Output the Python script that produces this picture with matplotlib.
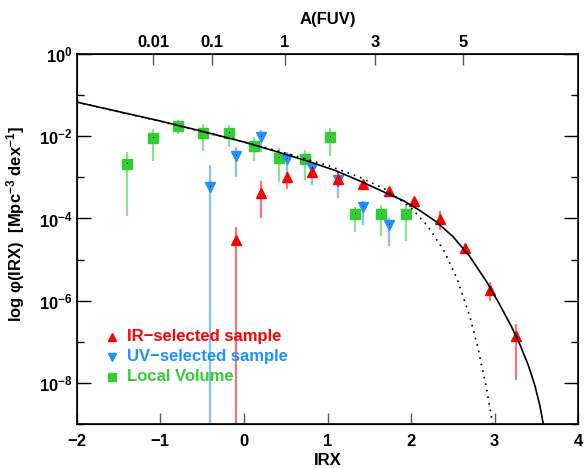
import matplotlib
matplotlib.use("Agg")
import matplotlib.pyplot as plt
from matplotlib.ticker import NullFormatter
import numpy as np

# IR-selected sample (red, triangles up), log10 phi with upper/lower error ends
irx_ir = [-0.10, 0.21, 0.52, 0.82, 1.13, 1.43, 1.74, 2.04, 2.34, 2.64, 2.94, 3.25]
logphi_ir = [-4.52, -3.38, -2.98, -2.88, -3.05, -3.15, -3.33, -3.57, -4.02, -4.73, -5.73, -6.86]
hi_ir = [-4.22, -3.08, -2.86, -2.82, -2.88, -3.10, -3.28, -3.52, -3.81, -4.66, -5.55, -6.57]
lo_ir = [-12.0, -3.99, -3.29, -2.95, -3.24, -3.21, -3.39, -3.63, -4.29, -4.82, -6.02, -7.92]

# UV-selected sample (blue, triangles down)
irx_uv = [-0.40, -0.10, 0.21, 0.52, 0.82, 1.13, 1.43, 1.74]
logphi_uv = [-3.24, -2.49, -2.01, -2.55, -2.78, -3.07, -3.73, -4.16]
hi_uv = [-2.70, -2.27, -1.85, -2.38, -2.68, -2.88, -3.57, -3.98]
lo_uv = [-12.0, -3.00, -2.39, -3.00, -3.19, -3.51, -4.16, -4.68]

# Local Volume (green squares)
irx_lv = [-1.40, -1.09, -0.79, -0.49, -0.18, 0.12, 0.42, 0.73, 1.03, 1.33, 1.64, 1.94]
logphi_lv = [-2.68, -2.05, -1.74, -1.92, -1.92, -2.23, -2.52, -2.55, -2.01, -3.90, -3.90, -3.90]
hi_lv = [-2.39, -1.82, -1.60, -1.70, -1.72, -2.02, -2.29, -2.33, -1.80, -3.71, -3.68, -3.66]
lo_lv = [-3.95, -2.60, -1.94, -2.35, -2.25, -2.60, -3.11, -3.07, -2.49, -4.32, -4.42, -4.55]

# fitted curves (IRX, log10 phi)
fit_x = [-2.0, -1.5, -1.0, -0.5, 0.0, 0.4, 0.8, 1.1, 1.4, 1.7, 1.9, 2.1, 2.3,
         2.5, 2.7, 2.9, 3.05, 3.2, 3.3, 3.4, 3.48, 3.54, 3.59]
fit_y = [-1.17, -1.40, -1.63, -1.88, -2.14, -2.38, -2.63, -2.84, -3.10, -3.38,
         -3.56, -3.80, -4.08, -4.44, -4.92, -5.53, -6.06, -6.63, -7.06, -7.56,
         -8.06, -8.55, -9.10]
dot_x = [-2.0, -1.0, 0.0, 0.5, 1.0, 1.4, 1.7, 2.0, 2.2, 2.4, 2.55, 2.7, 2.8,
         2.9, 2.95, 3.0]
dot_y = [-1.17, -1.64, -2.14, -2.41, -2.71, -3.01, -3.30, -3.74, -4.19, -4.81,
         -5.47, -6.37, -7.15, -8.12, -8.69, -9.33]

# top axis: A(FUV) labels and where they fall in IRX
afuv_labels = ["0.01", "0.1", "1", "3", "5"]
afuv_irx = [-1.084, -0.385, 0.49, 1.568, 2.617]

plt.rcParams["font.family"] = ["Liberation Sans", "DejaVu Sans"]
plt.rcParams["font.weight"] = "bold"
plt.rcParams["mathtext.fontset"] = "custom"
plt.rcParams["mathtext.rm"] = "Liberation Sans:bold"
plt.rcParams["mathtext.bf"] = "Liberation Sans:bold"
plt.rcParams["mathtext.default"] = "bf"

red = "#ff0000"
blue = "#1e90ff"
green = "#33cc33"

fig = plt.figure(figsize=(5.87, 4.68), dpi=100)
ax = fig.add_axes([0.1307, 0.094, 0.8545, 0.7906])


def draw(x, y, hi, lo, color, marker, ms):
    x = np.array(x)
    y = 10 ** np.array(y)
    up = 10 ** np.array(hi) - y
    dn = y - 10 ** np.array(lo)
    ax.errorbar(x, y, yerr=[dn, up], fmt="none", ecolor=color, alpha=0.55,
                elinewidth=1.6, capsize=0, zorder=2)
    ax.plot(x, y, linestyle="none", marker=marker, ms=ms, mfc=color,
            mec=color, zorder=3)
    ax.plot(x, y, linestyle="none", marker=",", color="k", zorder=4)


draw(irx_lv, logphi_lv, hi_lv, lo_lv, green, "s", 7.2)
draw(irx_uv, logphi_uv, hi_uv, lo_uv, blue, "v", 7.8)
draw(irx_ir, logphi_ir, hi_ir, lo_ir, red, "^", 7.8)

ax.plot(fit_x, 10 ** np.array(fit_y), color="k", lw=1.2, zorder=5)
ax.plot(dot_x, 10 ** np.array(dot_y), color="k", lw=1.2,
        linestyle=(0, (1, 3)), zorder=5)

ax.set_yscale("log")
ax.set_xlim(-2, 4)
ax.set_ylim(1e-9, 1)

ax.set_yticks([10.0 ** k for k in (0, -2, -4, -6, -8)])
ax.set_yticks([10.0 ** k for k in (-1, -3, -5, -7, -9)], minor=True)
ax.yaxis.set_minor_formatter(NullFormatter())
ax.set_xticks([-2, -1, 0, 1, 2, 3, 4])
ax.set_xticklabels(["\u22122", "\u22121", "0", "1", "2", "3", "4"])
ax.tick_params(axis="y", which="major", direction="in", length=10, width=1,
               right=True, labelsize=12, pad=3)
ax.tick_params(axis="y", which="minor", direction="in", length=5, width=1,
               right=True)
ax.tick_params(axis="x", which="major", direction="in", length=8, width=1,
               color="0.35", labelsize=12, pad=7)
ax.tick_params(axis="x", which="minor", bottom=False)
for s in ax.spines.values():
    s.set_linewidth(1.2)

ax.set_xlabel("IRX", fontsize=12, fontweight="bold", labelpad=3)
ax.set_ylabel(r"log $\mathregular{\varphi}$(IRX)  [Mpc$^{-3}$ dex$^{-1}$]",
              fontsize=12, fontweight="bold")
ax.yaxis.set_label_coords(-0.1, 0.54)

top = ax.twiny()
top.set_xlim(ax.get_xlim())
top.set_xticks(afuv_irx)
top.set_xticklabels(afuv_labels)
top.tick_params(axis="x", direction="in", length=8, width=1, color="0.35",
                labelsize=12, pad=3)
top.set_xlabel("A(FUV)", fontsize=12, fontweight="bold", labelpad=8)

# legend, placed by hand
rows = [("IR\u2212selected sample", red, "^"),
        ("UV\u2212selected sample", blue, "v"),
        ("Local Volume", green, "s")]
for i, (txt, c, m) in enumerate(rows):
    yy = 0.236 - i * 0.054
    ax.plot([0.0704], [yy], marker=m, ms=5.5, color=c, transform=ax.transAxes,
            linestyle="none", zorder=6)
    ax.text(0.1, yy, txt, color=c, fontsize=12, fontweight="bold",
            transform=ax.transAxes, va="center", ha="left", zorder=6)

fig.savefig("out.png", dpi=100)
